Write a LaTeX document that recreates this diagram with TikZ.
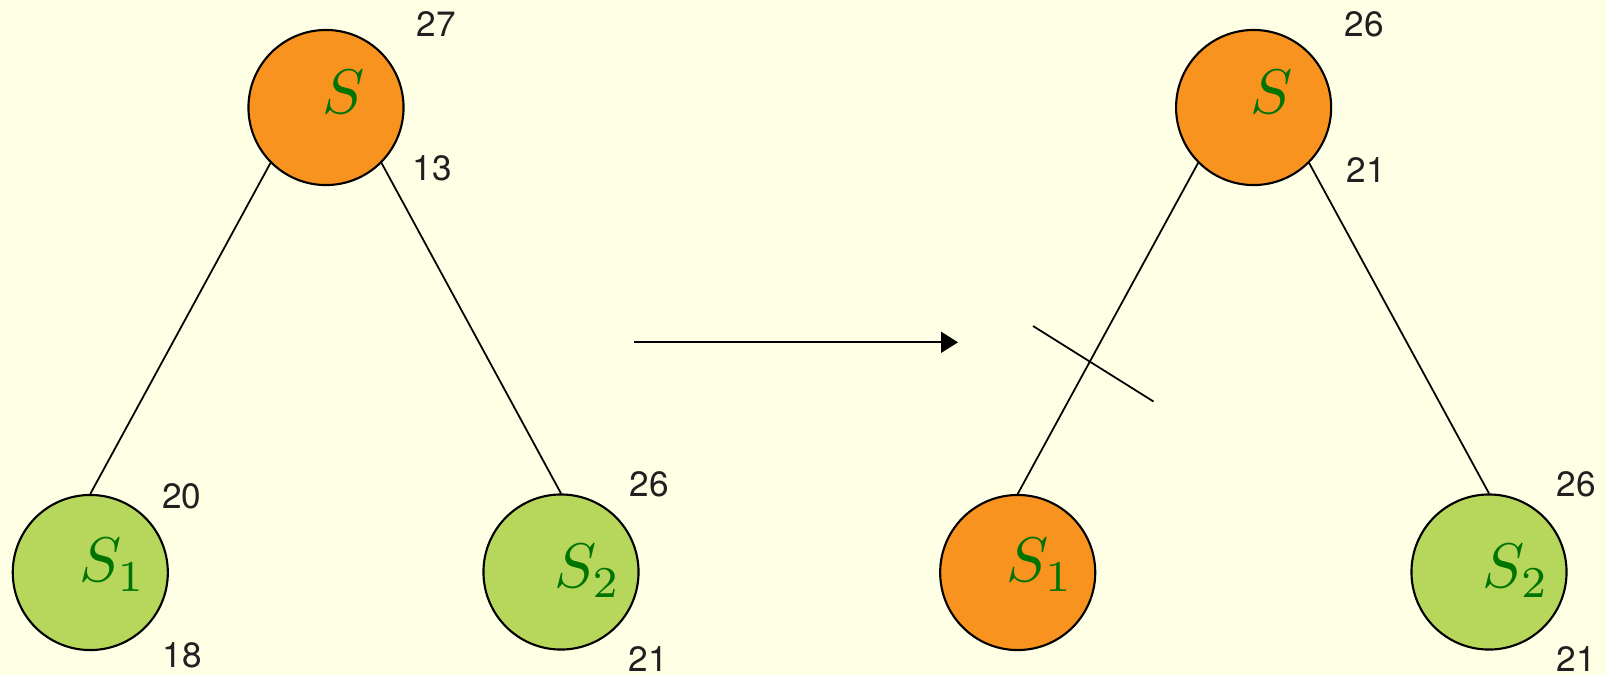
\documentclass[tikz,border=0pt]{standalone}
\usepackage{fontspec}
\usetikzlibrary{arrows.meta, positioning}
\usepackage{xcolor}
\newfontfamily\numfont{TeX Gyre Heros}
\definecolor{bgyellow}{RGB}{255,255,230}
\definecolor{setorange}{RGB}{247,147,30}
\definecolor{setgreen}{RGB}{182,214,92}
\definecolor{namegreen}{RGB}{0,115,0}
\definecolor{numgray}{RGB}{35,31,32}
\newcommand{\setnm}[1]{\scalebox{1.79}{$#1$}}

\begin{document}
\begin{tikzpicture}[
        x=0.01cm, y=-0.01cm,
        % Style for the set circles
        setnode/.style={circle, draw=black, line width=0.6pt, minimum size=1.55cm, inner sep=0pt},
        % Style for the set names inside the circles
        setname/.style={text=namegreen, inner sep=0pt},
        % Style for the numbers next to the circles
        numlabel/.style={text=numgray, inner sep=0pt, font=\numfont\fontsize{10}{12}\selectfont},
        % Style for the tree edges
        treeedge/.style={draw=black, line width=0.5pt}
    ]

    % --- BACKGROUND ---
    \fill[bgyellow] (0,0) rectangle (1606,675);
    \useasboundingbox (0,0) rectangle (1606,675);

    % --- LEFT TREE ---
    \node (sl) [setnode, fill=setorange] at (326,107.5) {};
    \node (sla) [setnode, fill=setgreen] at (90.3,572.5) {};
    \node (slb) [setnode, fill=setgreen] at (561,572) {};

    \draw[treeedge] (sl.south west) -- (sla.north);
    \draw[treeedge] (sl.south east) -- (slb.north);

    \node (nsl) [setname] at (344,91.5) {\setnm{S}};
    \node (nsla) [setname] at (112.5,565) {\setnm{S_1}};
    \node (nslb) [setname] at (587.5,571) {\setnm{S_2}};

    \node (ltop) [numlabel] at (436,24) {27};
    \node (lbot) [numlabel] at (432,168) {13};
    \node (latop) [numlabel] at (181.7,496) {20};
    \node (labot) [numlabel] at (182,655) {18};
    \node (lbtop) [numlabel] at (649,484) {26};
    \node (lbbot) [numlabel] at (648,659) {21};

    % --- ARROW ---
    \coordinate (arrfrom) at (634,342.3);
    \coordinate (arrto) at (958,342.3);
    \draw[line width=0.5pt, -{Triangle[length=0.17cm, width=0.21cm]}] (arrfrom) -- (arrto);

    % --- RIGHT TREE ---
    \node (sr) [setnode, fill=setorange] at (1253.6,107.5) {};
    \node (sra) [setnode, fill=setorange] at (1017.7,572.5) {};
    \node (srb) [setnode, fill=setgreen] at (1489,572) {};

    \draw[treeedge] (sr.south west) -- (sra.north);
    \draw[treeedge] (sr.south east) -- (srb.north);

    % cut mark on the left edge
    \coordinate (cutfrom) at (1033,326);
    \coordinate (cutto) at (1153.5,401.5);
    \draw[treeedge] (cutfrom) -- (cutto);

    \node (nsr) [setname] at (1271.6,91.5) {\setnm{S}};
    \node (nsra) [setname] at (1040,565) {\setnm{S_1}};
    \node (nsrb) [setname] at (1516,571) {\setnm{S_2}};

    \node (rtop) [numlabel] at (1364,24) {26};
    \node (rbot) [numlabel] at (1366.5,170) {21};
    \node (rbtop) [numlabel] at (1576,484) {26};
    \node (rbbot) [numlabel] at (1576,659) {21};

\end{tikzpicture}
\end{document}
